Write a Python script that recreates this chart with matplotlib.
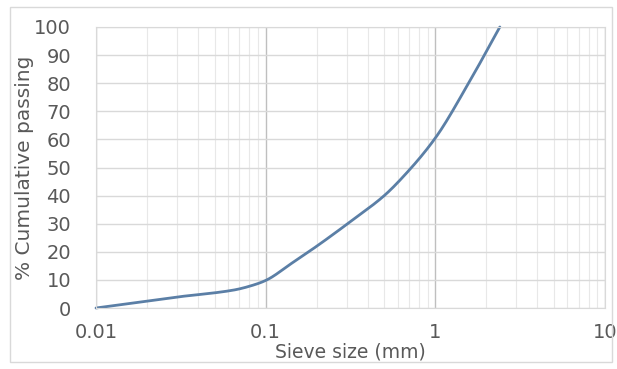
import numpy as np
import matplotlib
matplotlib.use("Agg")
import matplotlib.pyplot as plt
from matplotlib.patches import Rectangle

# sieve size (mm) vs cumulative passing (%)
sieve_mm = [0.01, 0.03, 0.065, 0.085, 0.1, 0.143, 0.2, 0.32, 0.5, 0.63, 1.0, 1.57, 2.4]
passing = [0.0, 3.9, 6.4, 8.2, 9.8, 16.0, 22.0, 31.0, 40.0, 46.0, 60.5, 80.0, 100.0]

xticks = [0.01, 0.1, 1, 10]
xticklabels = ["0.01", "0.1", "1", "10"]
yticks = list(range(0, 101, 10))


def pchip(x, y, xs):
    # monotone cubic (Fritsch-Carlson) so the curve stays smooth and never overshoots
    x = np.asarray(x, float); y = np.asarray(y, float)
    h = np.diff(x); d = np.diff(y) / h
    m = np.zeros_like(y)
    for i in range(1, len(x) - 1):
        if d[i-1] * d[i] > 0:
            w1 = 2*h[i] + h[i-1]; w2 = h[i] + 2*h[i-1]
            m[i] = (w1 + w2) / (w1/d[i-1] + w2/d[i])
    m[0] = d[0]; m[-1] = d[-1]
    idx = np.clip(np.searchsorted(x, xs) - 1, 0, len(x) - 2)
    t = (xs - x[idx]) / h[idx]
    h00 = 2*t**3 - 3*t**2 + 1; h10 = t**3 - 2*t**2 + t
    h01 = -2*t**3 + 3*t**2; h11 = t**3 - t**2
    return h00*y[idx] + h10*h[idx]*m[idx] + h01*y[idx+1] + h11*h[idx]*m[idx+1]


plt.rcParams['font.family'] = ['DejaVu Sans']
fig = plt.figure(figsize=(6.17, 3.69), dpi=100)
fig.patches.append(Rectangle((10/617, 7/369), 602/617, 355/369, transform=fig.transFigure,
                             fill=False, edgecolor="#d9d9d9", lw=1))

ax = fig.add_axes([96/617, 1 - 308/369, 509/617, 281/369])
ax.set_xscale("log")
ax.set_xlim(0.01, 10)
ax.set_ylim(0, 100)

lx = np.log10(sieve_mm)
xs = np.linspace(lx[0], lx[-1], 400)
ys = pchip(lx, passing, xs)
ax.plot(10**xs, ys, color="#5b7fa6", lw=2, solid_capstyle="round", clip_on=False)

ax.set_xticks(xticks)
ax.set_xticklabels(xticklabels)
ax.set_yticks(yticks)
ax.grid(True, which="major", axis="y", color="#d9d9d9", lw=1)
ax.grid(True, which="major", axis="x", color="#bfbfbf", lw=1)
ax.grid(True, which="minor", axis="x", color="#e8e8e8", lw=0.8)
ax.set_axisbelow(True)
ax.tick_params(which="both", length=0, labelsize=14, colors="#595959")
ax.tick_params(axis="x", pad=11)
ax.tick_params(axis="y", pad=18)
for s in ax.spines.values():
    s.set_color("#d9d9d9")

ax.set_xlabel("Sieve size (mm)", fontsize=13.5, color="#595959", labelpad=0)
ax.set_ylabel("% Cumulative passing", fontsize=14.5, color="#595959", labelpad=0)

fig.savefig("out.png", dpi=100)
